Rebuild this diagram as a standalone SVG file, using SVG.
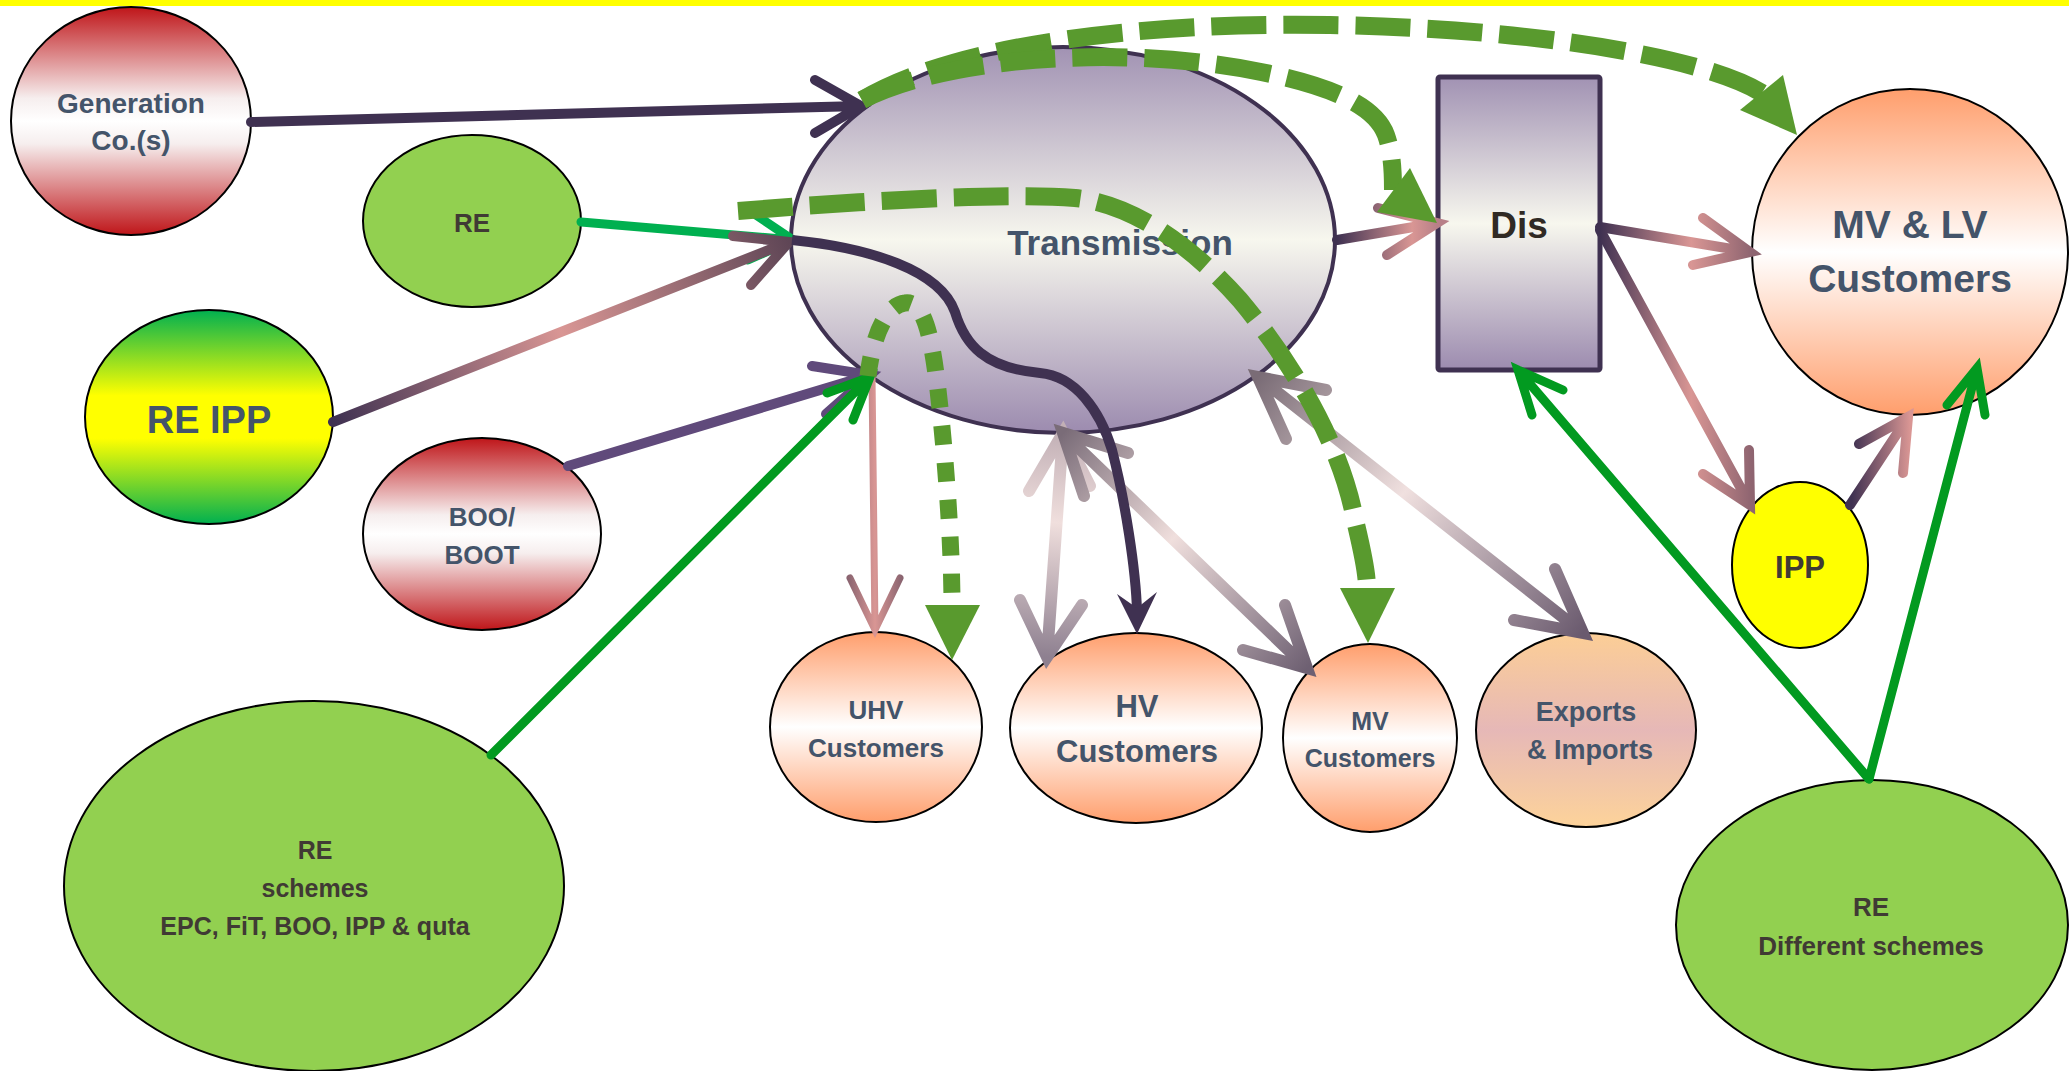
<svg xmlns="http://www.w3.org/2000/svg" width="2069" height="1071" viewBox="0 0 2069 1071">
<style>
.t{font-family:"Liberation Sans",Arial,sans-serif;font-weight:bold;text-anchor:middle;fill:#44546a}
.d{fill:#403a34}
.n{stroke:#000;stroke-width:2}
.c{fill:none;stroke-linecap:round;stroke-linejoin:miter}
.dash{fill:none;stroke:#599a2e;stroke-width:18;stroke-dasharray:55 17}
.head{fill:#599a2e}
</style>
<defs>
<linearGradient id="gRed" x1="0" y1="0" x2="0" y2="1"><stop offset="0" stop-color="#bf1519"/><stop offset="0.4" stop-color="#f6eeee"/><stop offset="0.5" stop-color="#ffffff"/><stop offset="0.6" stop-color="#f6eeee"/><stop offset="1" stop-color="#bf1519"/></linearGradient>
<linearGradient id="gYG" x1="0" y1="0" x2="0" y2="1"><stop offset="0" stop-color="#00b050"/><stop offset="0.4" stop-color="#ffff00"/><stop offset="0.6" stop-color="#ffff00"/><stop offset="1" stop-color="#00b050"/></linearGradient>
<linearGradient id="gPur" x1="0" y1="0" x2="0" y2="1"><stop offset="0" stop-color="#a192b3"/><stop offset="0.5" stop-color="#f7f7ee"/><stop offset="1" stop-color="#9c8baf"/></linearGradient>
<linearGradient id="gOr" x1="0" y1="0" x2="0" y2="1"><stop offset="0" stop-color="#ff9e6c"/><stop offset="0.5" stop-color="#ffffff"/><stop offset="1" stop-color="#ff9e6c"/></linearGradient>
<linearGradient id="gExp" x1="0" y1="0" x2="0" y2="1"><stop offset="0" stop-color="#fcce96"/><stop offset="0.5" stop-color="#e6b8b7"/><stop offset="1" stop-color="#fdd39a"/></linearGradient>
<linearGradient id="gA3" gradientUnits="userSpaceOnUse" x1="333" y1="422" x2="789" y2="242"><stop offset="0" stop-color="#3f3151"/><stop offset="0.5" stop-color="#d99694"/><stop offset="1" stop-color="#5f4656"/></linearGradient>
<linearGradient id="gA6" gradientUnits="userSpaceOnUse" x1="848" y1="0" x2="902" y2="0"><stop offset="0" stop-color="#8a6470"/><stop offset="0.5" stop-color="#d99694"/><stop offset="1" stop-color="#8a6470"/></linearGradient>
<linearGradient id="gA11" gradientUnits="userSpaceOnUse" x1="1337" y1="0" x2="1437" y2="0"><stop offset="0" stop-color="#3f3151"/><stop offset="0.75" stop-color="#d99694"/><stop offset="1" stop-color="#b88088"/></linearGradient>
<linearGradient id="gA12" gradientUnits="userSpaceOnUse" x1="1600" y1="0" x2="1752" y2="0"><stop offset="0" stop-color="#3f3151"/><stop offset="0.6" stop-color="#d99694"/><stop offset="1" stop-color="#8e6470"/></linearGradient>
<linearGradient id="gA14" gradientUnits="userSpaceOnUse" x1="1852" y1="0" x2="1910" y2="0"><stop offset="0" stop-color="#3f3151"/><stop offset="1" stop-color="#d99694"/></linearGradient>
<linearGradient id="gA8" gradientUnits="userSpaceOnUse" x1="1063" y1="433" x2="1047" y2="657"><stop offset="0" stop-color="#c2b0b6"/><stop offset="0.4" stop-color="#f0dfdd"/><stop offset="1" stop-color="#8e8090"/></linearGradient>
<linearGradient id="gA9" gradientUnits="userSpaceOnUse" x1="1063" y1="433" x2="1307" y2="668"><stop offset="0" stop-color="#7a6c78"/><stop offset="0.45" stop-color="#f0dfdd"/><stop offset="1" stop-color="#6e6072"/></linearGradient>
<linearGradient id="gA10" gradientUnits="userSpaceOnUse" x1="1258" y1="377" x2="1583" y2="633"><stop offset="0" stop-color="#7a6c76"/><stop offset="0.45" stop-color="#f0e0df"/><stop offset="1" stop-color="#6a5a6e"/></linearGradient>
</defs>
<rect x="0" y="0" width="2069" height="1071" fill="#ffffff"/>
<rect x="0" y="0" width="2069" height="6" fill="#ffff00"/>

<g id="gen"><ellipse class="n" cx="131" cy="121" rx="120" ry="114" fill="url(#gRed)"/><text class="t" x="131" y="113" font-size="28">Generation</text><text class="t" x="131" y="150" font-size="28">Co.(s)</text></g>
<g id="re"><ellipse class="n" cx="472" cy="221" rx="109" ry="86" fill="#92d050"/><text class="t d" x="472" y="232" font-size="26">RE</text></g>
<g id="reipp"><ellipse class="n" cx="209" cy="417" rx="124" ry="107" fill="url(#gYG)"/><text class="t" x="209" y="433" font-size="38">RE IPP</text></g>
<g id="boo"><ellipse class="n" cx="482" cy="534" rx="119" ry="96" fill="url(#gRed)"/><text class="t" x="482" y="526" font-size="26">BOO/</text><text class="t" x="482" y="564" font-size="26">BOOT</text></g>
<g id="reschemes"><ellipse class="n" cx="314" cy="886" rx="250" ry="185" fill="#92d050"/><text class="t d" x="315" y="859" font-size="25">RE</text><text class="t d" x="315" y="897" font-size="25">schemes</text><text class="t d" x="315" y="935" font-size="25">EPC, FiT, BOO, IPP &amp; quta</text></g>
<g id="transmission"><ellipse cx="1063" cy="240" rx="272" ry="193" fill="url(#gPur)" stroke="#3f3151" stroke-width="4"/><text class="t" x="1120" y="255" font-size="35">Transmission</text></g>
<g id="dis"><rect x="1438" y="77" width="162" height="293" rx="2" fill="url(#gPur)" stroke="#3f3151" stroke-width="5"/><text class="t" x="1519" y="238" font-size="37" fill="#302a24" style="fill:#302a24">Dis</text></g>
<g id="mvlv"><ellipse class="n" cx="1910" cy="252" rx="158" ry="163" fill="url(#gOr)"/><text class="t" x="1910" y="238" font-size="39">MV &amp; LV</text><text class="t" x="1910" y="292" font-size="39">Customers</text></g>
<g id="ipp"><ellipse class="n" cx="1800" cy="565" rx="68" ry="83" fill="#ffff00"/><text class="t d" x="1800" y="578" font-size="31">IPP</text></g>
<g id="uhv"><ellipse class="n" cx="876" cy="727" rx="106" ry="95" fill="url(#gOr)"/><text class="t" x="876" y="719" font-size="26">UHV</text><text class="t" x="876" y="757" font-size="26">Customers</text></g>
<g id="hv"><ellipse class="n" cx="1136" cy="728" rx="126" ry="95" fill="url(#gOr)"/><text class="t" x="1137" y="717" font-size="31">HV</text><text class="t" x="1137" y="762" font-size="31">Customers</text></g>
<g id="mv"><ellipse class="n" cx="1370" cy="738" rx="87" ry="94" fill="url(#gOr)"/><text class="t" x="1370" y="730" font-size="25">MV</text><text class="t" x="1370" y="767" font-size="25">Customers</text></g>
<g id="exports"><ellipse class="n" cx="1586" cy="730" rx="110" ry="97" fill="url(#gExp)"/><text class="t" x="1586" y="721" font-size="27">Exports</text><text class="t" x="1590" y="759" font-size="27">&amp; Imports</text></g>
<g id="rediff"><ellipse class="n" cx="1872" cy="925" rx="196" ry="145" fill="#92d050"/><text class="t d" x="1871" y="916" font-size="26">RE</text><text class="t d" x="1871" y="955" font-size="26">Different schemes</text></g>

<g id="connectors">
<path class="c" d="M251,122 L861,106 M815,80 L861,106 L815,133" stroke="#3f3151" stroke-width="10"/>
<path class="c" d="M581,222 L793,240 M750,211 L793,240 L748,260" stroke="#00b050" stroke-width="9"/>
<path class="c" d="M333,422 L789,242 M733,236 L789,242 L751,285" stroke="url(#gA3)" stroke-width="10"/>
<path class="c" d="M568,466 L870,375 M812,366 L870,375 L826,414" stroke="#604a7b" stroke-width="10"/>
<path class="c" d="M872,377 L875,630 M850,578 L875,630 L900,578" stroke="url(#gA6)" stroke-width="7"/>
<path class="c" d="M491,755 L870,377 M827,393 L870,377 L853,420" stroke="#029a20" stroke-width="9"/>
<path class="c" d="M1063,433 L1047,657 M1029,491 L1063,433 L1090,486 M1020,600 L1047,657 L1082,605" stroke="url(#gA8)" stroke-width="12"/>
<path class="c" d="M1063,433 L1307,668 M1084,496 L1063,433 L1128,453 M1285,605 L1307,668 L1243,650" stroke="url(#gA9)" stroke-width="12"/>
<path class="c" d="M1258,377 L1583,633 M1286,439 L1258,377 L1326,390 M1555,569 L1583,633 L1514,620" stroke="url(#gA10)" stroke-width="12"/>
<path class="c" d="M792,240 C870,248 940,270 955,312 C965,345 985,368 1040,373 C1075,376 1100,410 1112,450 C1125,500 1136,570 1137,612" stroke="#3f3151" stroke-width="10" style="stroke-linecap:butt"/>
<polygon points="1137,634 1117,594 1137,608 1157,592" fill="#3f3151"/>
<path class="c" d="M1337,240 L1437,223 M1378,208 L1437,223 L1387,255" stroke="url(#gA11)" stroke-width="10"/>
<path class="c" d="M1600,227 L1750,252 M1703,218 L1750,252 L1693,265" stroke="url(#gA12)" stroke-width="10"/>
<path class="c" d="M1600,230 L1750,505 M1703,474 L1750,505 L1749,450" stroke="url(#gA12)" stroke-width="10"/>
<path class="c" d="M1850,505 L1908,417 M1859,444 L1908,417 L1903,473" stroke="url(#gA14)" stroke-width="10"/>
<path class="c" d="M1869,779 L1518,370 M1563,390 L1518,370 L1532,415" stroke="#029a20" stroke-width="9"/>
<path class="c" d="M1869,779 L1977,368 M1947,405 L1977,368 L1985,415" stroke="#029a20" stroke-width="9"/>
<path class="dash" d="M862,100 C960,42 1150,22 1330,25 C1520,28 1700,55 1762,93"/>
<polygon class="head" points="1783,75 1740,110 1797,135"/>
<path class="dash" d="M862,100 C950,55 1130,45 1261,72 C1330,86 1375,105 1386,135 C1392,152 1393,170 1393,190"/>
<polygon class="head" points="1410,168 1377,212 1437,223"/>
<path class="dash" d="M738,211 C850,202 1000,192 1075,198 C1140,205 1200,255 1240,300 C1290,360 1340,440 1355,520 C1362,550 1367,570 1367,590"/>
<polygon class="head" points="1340,588 1395,588 1368,643"/>
<path class="dash" d="M868,376 C872,340 885,305 905,303 C925,300 932,340 938,390 C945,450 952,540 952,607" style="stroke-width:17;stroke-dasharray:19 18"/>
<polygon class="head" points="925,605 980,605 952,660"/>
</g>
</svg>
